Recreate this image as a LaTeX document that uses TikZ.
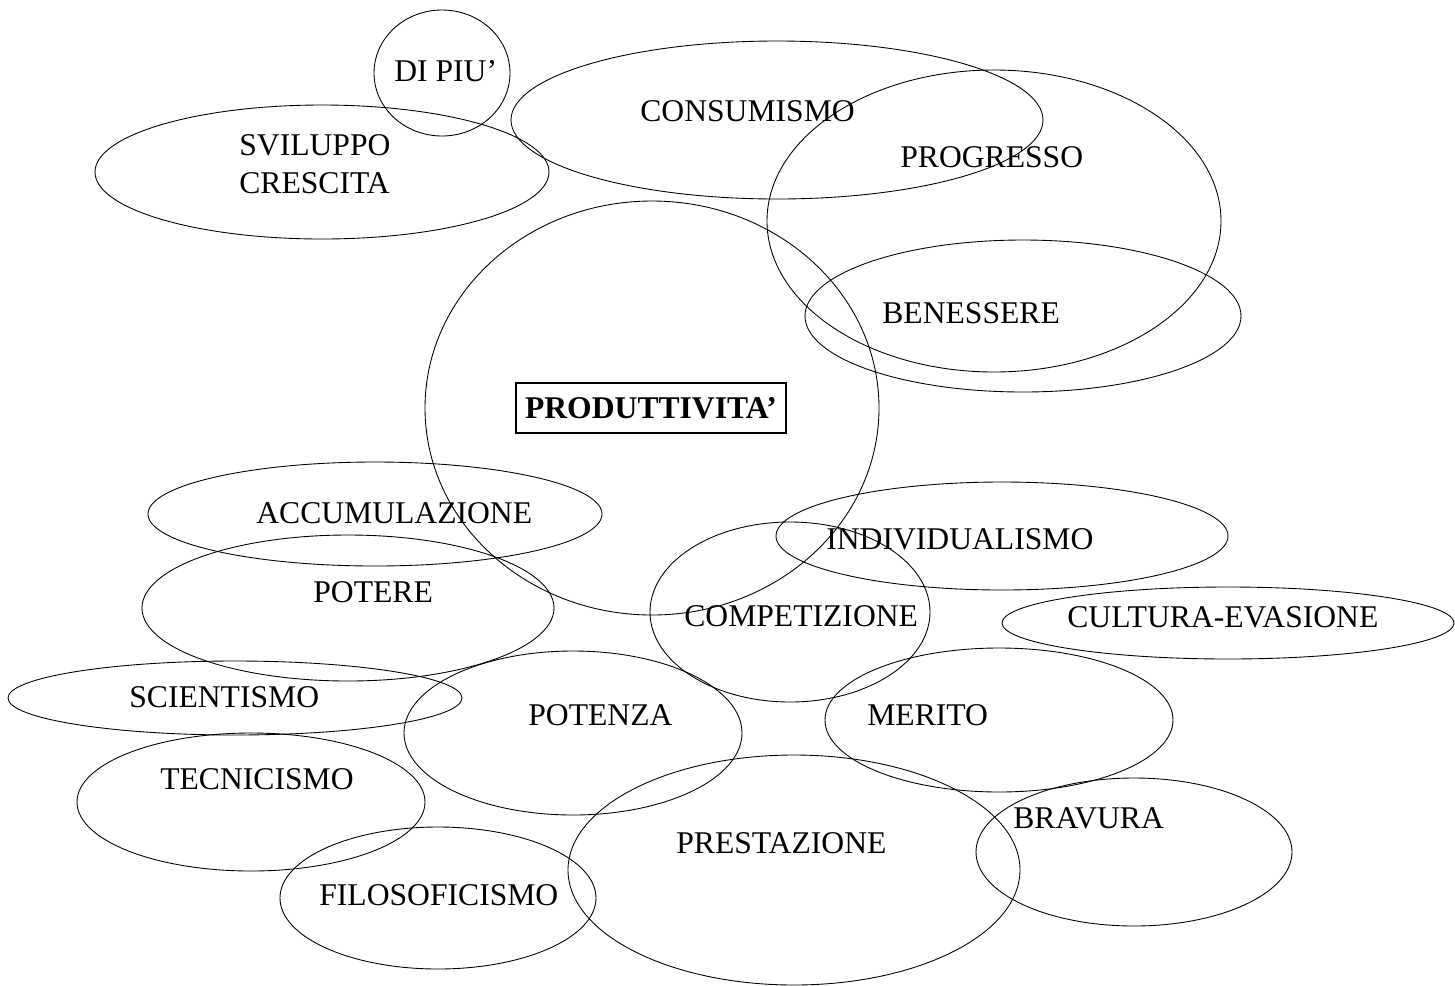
\documentclass[tikz,border=0pt]{standalone}
\usepackage{fontspec}
\setmainfont{Liberation Serif}
\begin{document}
\begin{tikzpicture}[x=0.02cm, y=-0.02cm,
  blob/.style={draw, line width=0.5pt},
  word/.style={anchor=base west, inner sep=0pt, font=\fontsize{18}{21}\selectfont}]
  \useasboundingbox (0,0) rectangle (1455,985);
  % upper ellipses
  \draw[blob] (442,73) ellipse (68 and 63);
  \draw[blob] (322,172) ellipse (227 and 67);
  \draw[blob] (777,120) ellipse (266 and 79);
  \draw[blob] (994,221) ellipse (227 and 151);
  \draw[blob] (1023,316) ellipse (218 and 76);
  % central circle
  \draw[blob] (652,408) ellipse (227 and 207);
  % lower ellipses
  \draw[blob] (375,514) ellipse (227 and 52);
  \draw[blob] (1002,536) ellipse (226 and 54);
  \draw[blob] (790,612) ellipse (140 and 90);
  \draw[blob] (348,608) ellipse (206 and 73);
  \draw[blob] (1228,623) ellipse (226 and 36);
  \draw[blob] (235,698) ellipse (227 and 37);
  \draw[blob] (573,733) ellipse (169 and 82);
  \draw[blob] (999,720) ellipse (174 and 72);
  \draw[blob] (251,802) ellipse (174 and 69);
  \draw[blob] (794,870) ellipse (226 and 115);
  \draw[blob] (1134,852) ellipse (158 and 74);
  \draw[blob] (438,898) ellipse (158 and 71);
  % labels
  \node[word] (dipiu) at (394,81) {DI PIU'};
  \node[word] (sviluppo) at (239,155) {SVILUPPO};
  \node[word] (crescita) at (239,193) {CRESCITA};
  \node[word] (consumismo) at (640,121) {CONSUMISMO};
  \node[word] (progresso) at (900,167) {PROGRESSO};
  \node[word] (benessere) at (882,323) {BENESSERE};
  \node[draw, line width=1.1pt, inner sep=0pt, minimum width=5.4cm, minimum height=1cm,
    font=\fontsize{18}{21}\selectfont\bfseries] (prod) at (651,408) {PRODUTTIVITA'};
  \node[word] (accum) at (256,523) {ACCUMULAZIONE};
  \node[word] (indiv) at (826,549) {INDIVIDUALISMO};
  \node[word] (potere) at (313,602) {POTERE};
  \node[word] (compet) at (684,626) {COMPETIZIONE};
  \node[word] (cultura) at (1067,627) {CULTURA-EVASIONE};
  \node[word] (scient) at (129,707) {SCIENTISMO};
  \node[word] (potenza) at (528,725) {POTENZA};
  \node[word] (merito) at (867,725) {MERITO};
  \node[word] (tecnic) at (160,789) {TECNICISMO};
  \node[word] (bravura) at (1013,828) {BRAVURA};
  \node[word] (prestaz) at (676,853) {PRESTAZIONE};
  \node[word] (filos) at (319,905) {FILOSOFICISMO};
\end{tikzpicture}
\end{document}
